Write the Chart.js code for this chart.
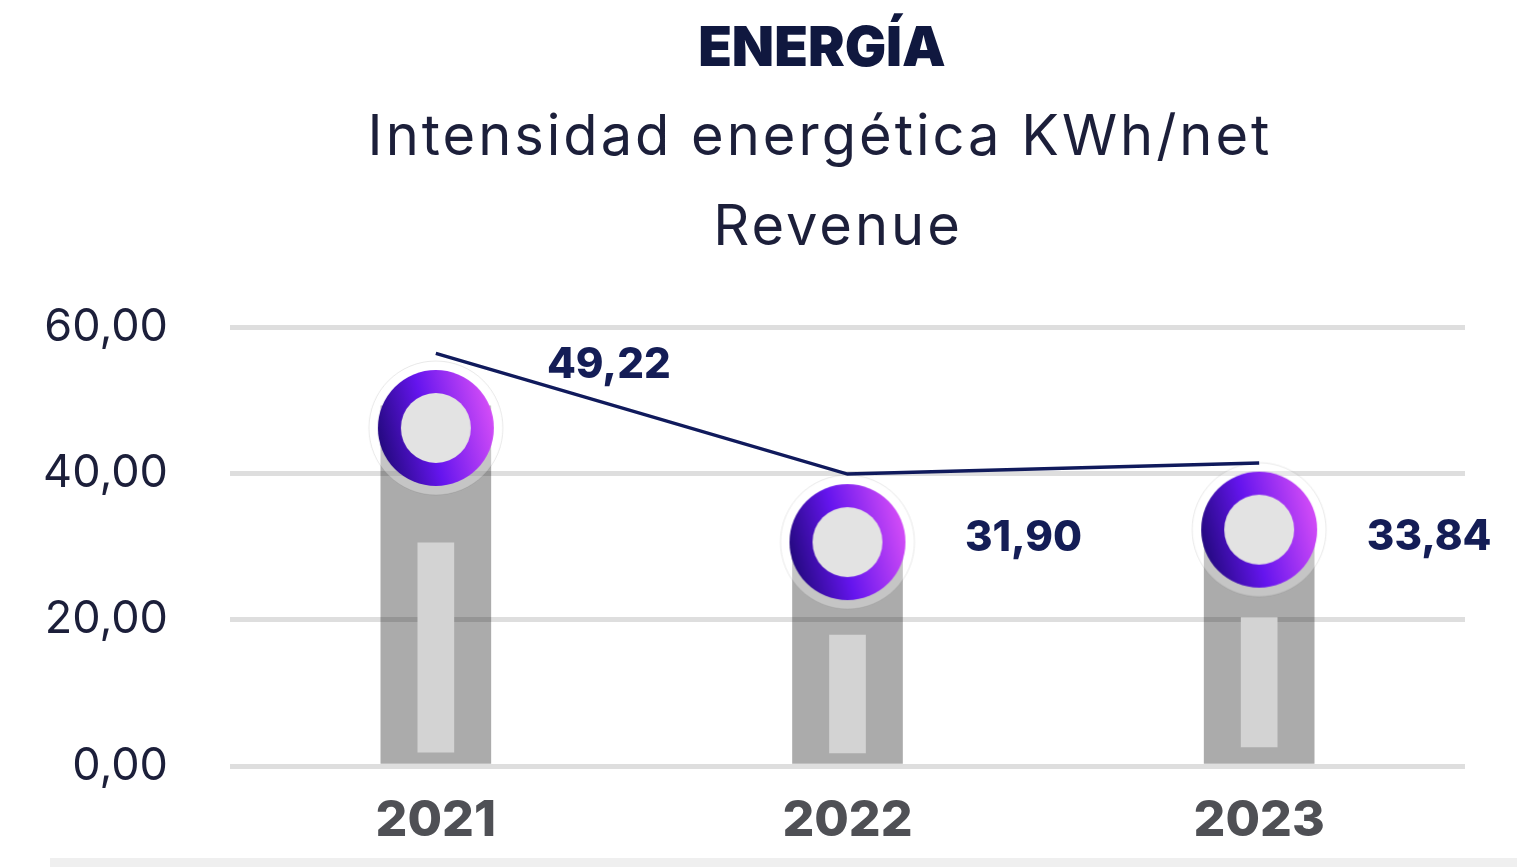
<!DOCTYPE html>
<html lang="es">
<head>
<meta charset="utf-8">
<title>Energía</title>
<script src="https://cdn.jsdelivr.net/npm/chart.js@4.4.1/dist/chart.umd.min.js"></script>
<style>
  html, body { margin: 0; padding: 0; background: #fff; }
  #wrap { position: relative; width: 1517px; height: 867px; }
</style>
</head>
<body>
<div id="wrap"><canvas id="energiaChart" width="1517" height="867"></canvas></div>
<script>
// Datos
const years = ['2021', '2022', '2023'];
const intensity = [49.22, 31.90, 33.84];          // barras grises + etiquetas
const markerLevel = [46.2, 30.6, 32.3];           // centro de los círculos
const trendLine = [56.4, 39.9, 41.4];             // línea azul
const innerBars = [[1.9, 30.5], [1.8, 17.9], [2.6, 20.3]]; // barra clara interior
const yTicks = [0, 20, 40, 60];

const NAVY = '#141d56';
const FONT = 'Inter, "Noto Sans", sans-serif';

function fmt(v) {
  return v.toFixed(2).replace('.', ',');
}

// Círculo con anillo degradado (estilo del punto)
function makeMarker() {
  const c = document.createElement('canvas');
  c.width = 140; c.height = 140;
  const g = c.getContext('2d');
  const cx = 70, cy = 70;
  // halo
  g.beginPath();
  g.arc(cx, cy, 67, 0, Math.PI * 2);
  g.fillStyle = 'rgba(255,255,255,0.3)';
  g.fill();
  g.lineWidth = 1;
  g.strokeStyle = 'rgba(0,0,0,0.09)';
  g.stroke();
  // anillo
  const grad = g.createLinearGradient(cx - 57, cy + 20, cx + 57, cy - 10);
  grad.addColorStop(0, '#22097c');
  grad.addColorStop(0.45, '#6515ee');
  grad.addColorStop(1, '#d24cf7');
  g.beginPath();
  g.arc(cx, cy, 58, 0, Math.PI * 2);
  g.fillStyle = grad;
  g.fill();
  // centro
  g.beginPath();
  g.arc(cx, cy, 35, 0, Math.PI * 2);
  g.fillStyle = '#e3e3e3';
  g.fill();
  return c;
}

// Títulos y borde inferior
const titlesPlugin = {
  id: 'titulos',
  beforeDraw(chart) {
    const ctx = chart.ctx;
    ctx.save();
    ctx.fillStyle = '#efefef';
    ctx.fillRect(50, 858, chart.width - 50, 9);
    ctx.restore();
  },
  afterDraw(chart) {
    const ctx = chart.ctx;
    ctx.save();
    ctx.textAlign = 'center';
    ctx.textBaseline = 'alphabetic';
    ctx.fillStyle = '#10183f';
    ctx.font = '900 55px ' + FONT;
    ctx.fillText('ENERGÍA', 822, 66);
    ctx.fillStyle = '#1c1f3a';
    ctx.font = '400 56px ' + FONT;
    ctx.letterSpacing = '3px';
    ctx.fillText('Intensidad energética KWh/net', 820, 155);
    ctx.fillText('Revenue', 838, 245);
    ctx.restore();
  }
};

// Etiquetas de valores
const valueLabels = {
  id: 'valueLabels',
  afterDatasetsDraw(chart) {
    const meta = chart.getDatasetMeta(1);
    const offsets = [[173, -63], [176, -4], [170, 8]];
    const ctx = chart.ctx;
    ctx.save();
    ctx.font = '800 42px ' + FONT;
    ctx.fillStyle = NAVY;
    ctx.textAlign = 'center';
    ctx.textBaseline = 'middle';
    meta.data.forEach((pt, i) => {
      ctx.fillText(fmt(intensity[i]), pt.x + offsets[i][0], pt.y + offsets[i][1]);
    });
    ctx.restore();
  }
};

function initChart() {
  const ctx = document.getElementById('energiaChart').getContext('2d');
  const marker = makeMarker();
  new Chart(ctx, {
    data: {
      labels: years,
      datasets: [
        {
          type: 'line',
          label: 'Tendencia',
          data: trendLine,
          borderColor: '#101a5c',
          borderWidth: 3.5,
          pointRadius: 0,
          tension: 0,
          order: 0
        },
        {
          type: 'line',
          label: 'Marcador',
          data: markerLevel,
          showLine: false,
          pointStyle: marker,
          pointRadius: 60,
          order: 1
        },
        {
          type: 'bar',
          label: 'Interior',
          data: innerBars,
          backgroundColor: '#d3d3d3',
          barThickness: 36,
          grouped: false,
          order: 2
        },
        {
          type: 'bar',
          label: 'Intensidad energética',
          data: intensity,
          backgroundColor: 'rgba(0,0,0,0.33)',
          barThickness: 110,
          grouped: false,
          order: 3
        }
      ]
    },
    options: {
      responsive: false,
      animation: false,
      layout: { autoPadding: false, padding: { top: 327, right: 52, left: 0, bottom: 0 } },
      plugins: {
        legend: { display: false },
        tooltip: { enabled: false }
      },
      scales: {
        x: {
          afterFit(s) { s.height = 101; s.paddingLeft = 0; s.paddingRight = 0; },
          grid: { display: false },
          border: { display: false },
          ticks: {
            color: '#4f5055',
            padding: 17,
            font: { family: FONT, size: 50, weight: '800' }
          }
        },
        y: {
          min: 0,
          max: 60,
          afterFit(s) { s.width = 230; },
          afterBuildTicks(s) { s.ticks = yTicks.map(v => ({ value: v })); },
          grid: { color: '#dedede', lineWidth: 5, drawTicks: false },
          border: { display: false },
          ticks: {
            color: '#1c1f3a',
            padding: 62,
            font: { family: FONT, size: 45 },
            callback: v => fmt(v)
          }
        }
      }
    },
    plugins: [titlesPlugin, valueLabels]
  });
}

document.addEventListener('DOMContentLoaded', () => {
  initChart();
});
</script>
</body>
</html>
